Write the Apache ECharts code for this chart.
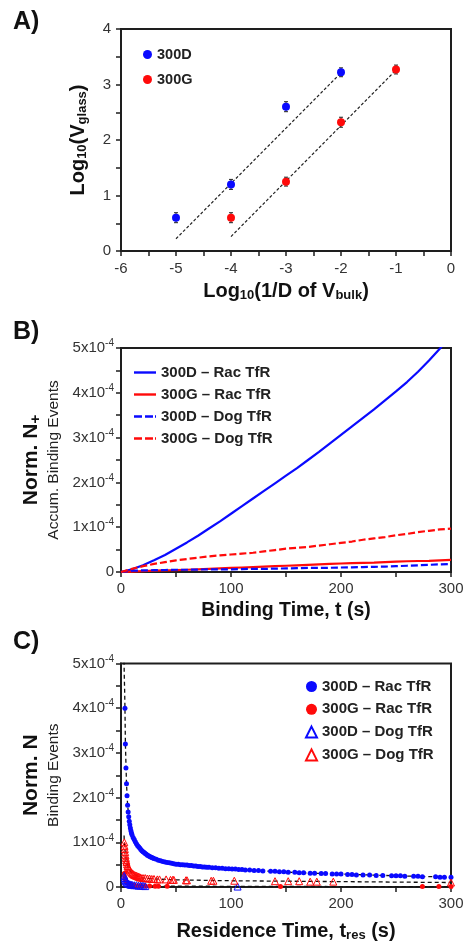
<!DOCTYPE html>
<html><head><meta charset="utf-8">
<script src="https://cdn.jsdelivr.net/npm/echarts@6/dist/echarts.min.js"></script>
<style>
html,body{margin:0;padding:0;background:#fff;width:468px;height:942px;overflow:hidden;}
.p{position:absolute;left:0;width:468px;}
#a{top:0;height:310px;} #b{top:310px;height:310px;} #c{top:620px;height:322px;}
</style></head><body>
<div id="a" class="p"></div><div id="b" class="p"></div><div id="c" class="p"></div>
<script>
// ---------- Panel A data ----------
const aXTicks = [-6, -5, -4, -3, -2, -1, 0];
const aX_300D = [-5, -4, -3, -2];
const aY_300D = [0.60, 1.20, 2.60, 3.22];
const aE_300D = [0.09, 0.09, 0.09, 0.08];
const aX_300G = [-4, -3, -2, -1];
const aY_300G = [0.60, 1.25, 2.32, 3.27];
const aE_300G = [0.09, 0.08, 0.09, 0.08];
const aFitX_300D = [-5, -2];
const aFitY_300D = [0.22, 3.21];
const aFitX_300G = [-4, -1];
const aFitY_300G = [0.26, 3.26];

// ---------- Panel B data (values in units of 1e-4) ----------
const bNames = ['300D – Rac TfR', '300G – Rac TfR', '300D – Dog TfR', '300G – Dog TfR'];
const bT = [0,10,20,30,40,50,60,70,80,90,100,110,120,130,140,150,160,170,180,190,200,210,220,230,240,250,260,270,280,290,300];
const bRac300D = [0,0.06,0.15,0.26,0.38,0.52,0.66,0.81,0.97,1.13,1.30,1.47,1.64,1.81,1.98,2.15,2.32,2.50,2.68,2.87,3.06,3.25,3.44,3.63,3.83,4.03,4.24,4.47,4.72,4.99,5.28];
const bRac300G = [0,0.01,0.02,0.03,0.035,0.04,0.05,0.06,0.07,0.08,0.09,0.10,0.11,0.12,0.13,0.14,0.15,0.16,0.17,0.18,0.19,0.20,0.205,0.21,0.22,0.23,0.24,0.245,0.25,0.26,0.27];
const bDog300D = [0,0.03,0.035,0.04,0.045,0.05,0.05,0.055,0.06,0.06,0.06,0.065,0.07,0.07,0.075,0.08,0.085,0.09,0.09,0.095,0.10,0.105,0.11,0.115,0.12,0.13,0.14,0.15,0.16,0.17,0.18];
const bDog300G = [0,0.07,0.13,0.18,0.22,0.26,0.29,0.32,0.35,0.37,0.39,0.41,0.43,0.46,0.49,0.52,0.54,0.56,0.59,0.62,0.65,0.68,0.72,0.75,0.78,0.82,0.85,0.89,0.92,0.95,0.97];

// ---------- Panel C data (values in units of 1e-4) ----------
const cT_Rac300D = [3.6,4.0,4.5,5.0,5.5,6.0,6.5,7.0,7.5,8.0,8.5,9.0,9.5,10,11,12,13,14,15,16,17,18,19,20,21,22,23,24,25,26,27,28,29,30,32,34,36,38,40,42,44,46,48,50,52,54,56,58,60,62,64,66,68,70,72,74,76,78,80,83,86,89,92,95,98,101,104,107,110,113,117,121,125,129,136,140,144,148,152,158,162,166,172,176,182,186,192,196,200,206,210,214,220,226,232,238,246,250,254,258,266,270,274,286,290,294,300];
const cV_Rac300D = [4.00,3.20,2.66,2.31,2.04,1.83,1.68,1.57,1.47,1.39,1.32,1.26,1.21,1.17,1.11,1.06,1.01,0.97,0.93,0.90,0.87,0.84,0.81,0.79,0.77,0.75,0.73,0.71,0.70,0.68,0.67,0.66,0.65,0.64,0.62,0.60,0.59,0.57,0.56,0.55,0.54,0.53,0.52,0.51,0.51,0.50,0.50,0.49,0.49,0.48,0.48,0.47,0.47,0.46,0.46,0.45,0.45,0.44,0.44,0.43,0.43,0.42,0.42,0.41,0.41,0.40,0.40,0.39,0.39,0.38,0.38,0.37,0.37,0.36,0.35,0.35,0.34,0.34,0.33,0.33,0.32,0.32,0.31,0.31,0.30,0.30,0.29,0.29,0.29,0.28,0.28,0.27,0.27,0.27,0.26,0.26,0.25,0.25,0.25,0.24,0.24,0.24,0.23,0.23,0.22,0.22,0.22];
const cT_Rac300G = [3.0,3.5,4.0,5.0,6.0,7.0,8.0,10,12,15,18,22,26,31,34,42,145,274,289,300];
const cV_Rac300G = [0.30,0.22,0.17,0.12,0.09,0.07,0.06,0.05,0.04,0.03,0.03,0.02,0.02,0.015,0.015,0.015,0.01,0.01,0.01,0.01];
const cT_Dog300D = [3.0,3.4,3.8,4.3,5.0,6.0,7.0,8.0,9.0,10,12,14,16,18,20,22,106];
const cV_Dog300D = [0.25,0.20,0.16,0.13,0.10,0.08,0.07,0.06,0.05,0.05,0.04,0.04,0.03,0.03,0.03,0.02,0.01];
const cT_Dog300G = [3.0,3.2,3.5,3.8,4.1,4.4,4.7,5.0,5.5,6,6.5,7,7.5,8,9,10,11,12,13,14,15,16,17,18,20,22,24,26,28,30,33,35,41,45,47,48,59,60,82,84,103,140,152,162,172,178,193,300];
const cV_Dog300G = [1.00,0.92,0.85,0.78,0.71,0.65,0.60,0.56,0.51,0.47,0.44,0.41,0.39,0.37,0.34,0.31,0.29,0.27,0.26,0.25,0.24,0.23,0.22,0.21,0.20,0.20,0.19,0.19,0.18,0.18,0.17,0.17,0.17,0.16,0.16,0.16,0.15,0.15,0.14,0.14,0.14,0.13,0.13,0.13,0.12,0.12,0.12,0.10];
// fitted curves (dashed black)
const cFitT_Rac300D = [2.6,2.8,3.0,3.3,3.6,4.0,5.0,6.0,8.0,10,15,20,30,50,80,120,160,200,250,300];
const cFitV_Rac300D = [6.0,5.0,4.7,4.4,4.0,3.2,2.31,1.83,1.39,1.17,0.93,0.79,0.64,0.51,0.44,0.37,0.32,0.29,0.25,0.22];
const cFitT_Dog300G = [2.8,3.0,4.0,5.0,7.0,10,15,20,30,50,100,150,200,250,300];
const cFitV_Dog300G = [1.15,1.00,0.73,0.56,0.41,0.31,0.24,0.20,0.18,0.16,0.14,0.13,0.12,0.11,0.10];
const cFitT_Low = [2.8,3.0,4.0,6.0,10,20,40,100,200,300];
const cFitV_Low = [0.35,0.28,0.16,0.09,0.05,0.03,0.02,0.015,0.01,0.01];

// ---------- styling ----------
const FONT = '"Liberation Sans", Arial, Helvetica, sans-serif';
const AXC = '#1e1e1e';
const LBL = '#333';
const BLUE = '#0a0aff';
const RED = '#ff0a0a';
const E4 = 1e-4;
const ICON_SOLID = 'path://M0,0H22V2.4H0Z';
const ICON_DASH = 'path://M0,0H8V2.4H0Z M11,0H19V2.4H11Z M21,0H22V2.4H21Z';

function axisCommon() {
  return {
    axisLine: {show: true, onZero: false, lineStyle: {color: AXC, width: 2}},
    axisTick: {show: true, inside: false, length: 5, lineStyle: {color: AXC, width: 1.5}},
    splitLine: {show: false}
  };
}
function sciFmt(v) {
  const k = Math.round(v * 1e5) / 10;
  if (Math.abs(k) < 1e-9) return '{n|0}';
  if (Math.abs(k - Math.round(k)) < 1e-9) return '{n|' + Math.round(k) + 'x10}{sup|-4}';
  return '';
}
const sciRich = {
  n: {fontSize: 15, color: LBL, fontFamily: FONT},
  sup: {fontSize: 10, color: LBL, fontFamily: FONT, padding: [0, 0, 9, 0]}
};
function intFmt(v) { return Math.abs(v - Math.round(v)) < 1e-9 ? String(Math.round(v)) : ''; }
function hundredFmt(v) { return (Math.round(v) % 100 === 0) ? String(Math.round(v)) : ''; }
const titleRich = {
  b: {fontSize: 20, fontWeight: 'bold', color: '#111', fontFamily: FONT, lineHeight: 24},
  s: {fontSize: 13, fontWeight: 'bold', color: '#111', fontFamily: FONT, padding: [8, 0, 0, 0], lineHeight: 24},
  r: {fontSize: 15.5, color: '#222', fontFamily: FONT, lineHeight: 22}
};
function letter(t) {
  return {type: 'text', left: 13, top: 10, style: {text: t, font: 'bold 25px ' + FONT, fill: '#111'}};
}
function pairs(xs, ys, scale) { return xs.map((x, i) => [x, ys[i] * scale]); }

// ---------- Panel A ----------
function errBars(name, xs, ys, es) {
  return {
    type: 'custom', name: name, z: 2, silent: true,
    data: xs.map((x, i) => [x, ys[i] - es[i], ys[i] + es[i]]),
    encode: {x: 0, y: [1, 2]},
    renderItem: function (params, api) {
      const lo = api.coord([api.value(0), api.value(1)]);
      const hi = api.coord([api.value(0), api.value(2)]);
      const w = 2;
      const st = {stroke: '#222', lineWidth: 1};
      return {type: 'group', children: [
        {type: 'line', shape: {x1: lo[0], y1: lo[1], x2: hi[0], y2: hi[1]}, style: st},
        {type: 'line', shape: {x1: lo[0] - w, y1: lo[1], x2: lo[0] + w, y2: lo[1]}, style: st},
        {type: 'line', shape: {x1: hi[0] - w, y1: hi[1], x2: hi[0] + w, y2: hi[1]}, style: st}
      ]};
    }
  };
}
const chartA = echarts.init(document.getElementById('a'));
chartA.setOption({
  animation: false,
  backgroundColor: '#fff',
  graphic: [letter('A)')],
  grid: {left: 121, top: 29, width: 330, height: 222, show: true, borderColor: AXC, borderWidth: 2, outerBoundsMode: 'none'},
  legend: {
    data: ['300D', '300G'], orient: 'vertical', left: 138, top: 42, icon: 'circle',
    itemWidth: 9, itemHeight: 9, itemGap: 10,
    textStyle: {fontSize: 14.5, fontWeight: 'bold', color: '#222', fontFamily: FONT}
  },
  xAxis: Object.assign(axisCommon(), {
    type: 'value', min: aXTicks[0], max: aXTicks[aXTicks.length - 1], interval: 0.5,
    axisLabel: {formatter: intFmt, fontSize: 15, color: LBL, fontFamily: FONT, margin: 10},
    name: '{b|Log}{s|10}{b|(1/D of V}{s|bulk}{b|)}', nameLocation: 'middle', nameGap: 27,
    nameTextStyle: {rich: titleRich}
  }),
  yAxis: Object.assign(axisCommon(), {
    type: 'value', min: 0, max: 4, interval: 0.5,
    axisLabel: {formatter: intFmt, fontSize: 15, color: LBL, fontFamily: FONT, margin: 10},
    name: '{b|Log}{s|10}{b|(V}{s|glass}{b|)}', nameLocation: 'middle', nameGap: 31, nameRotate: 90,
    nameTextStyle: {rich: titleRich}
  }),
  series: [
    {type: 'line', name: 'fit 300D', data: pairs(aFitX_300D, aFitY_300D, 1), symbol: 'none', z: 1,
     lineStyle: {color: '#222', width: 1.2, type: [3, 2]}},
    {type: 'line', name: 'fit 300G', data: pairs(aFitX_300G, aFitY_300G, 1), symbol: 'none', z: 1,
     lineStyle: {color: '#222', width: 1.2, type: [3, 2]}},
    errBars('err 300D', aX_300D, aY_300D, aE_300D),
    errBars('err 300G', aX_300G, aY_300G, aE_300G),
    {type: 'scatter', name: '300D', data: pairs(aX_300D, aY_300D, 1), symbol: 'circle', symbolSize: 8, z: 3,
     itemStyle: {color: BLUE, opacity: 1}},
    {type: 'scatter', name: '300G', data: pairs(aX_300G, aY_300G, 1), symbol: 'circle', symbolSize: 8, z: 3,
     itemStyle: {color: RED, opacity: 1}}
  ]
});

// ---------- Panel B ----------
const chartB = echarts.init(document.getElementById('b'));
function bLine(name, vals, color, type) {
  return {type: 'line', name: name, data: pairs(bT, vals, E4), symbol: 'none', clip: true,
    lineStyle: {color: color, width: 2.2, type: type}, itemStyle: {color: color}};
}
chartB.setOption({
  animation: false,
  backgroundColor: '#fff',
  graphic: [letter('B)')],
  grid: {left: 121, top: 38, width: 330, height: 224, show: true, borderColor: AXC, borderWidth: 2, outerBoundsMode: 'none'},
  legend: {
    data: [
      {name: bNames[0], icon: ICON_SOLID, itemStyle: {color: BLUE}},
      {name: bNames[1], icon: ICON_SOLID, itemStyle: {color: RED}},
      {name: bNames[2], icon: ICON_DASH, itemStyle: {color: BLUE}},
      {name: bNames[3], icon: ICON_DASH, itemStyle: {color: RED}}
    ],
    orient: 'vertical', left: 129, top: 50,
    itemWidth: 22, itemHeight: 2.4, itemGap: 7,
    textStyle: {fontSize: 15, fontWeight: 'bold', color: '#222', fontFamily: FONT}
  },
  xAxis: Object.assign(axisCommon(), {
    type: 'value', min: 0, max: 300, interval: 50,
    axisLabel: {formatter: hundredFmt, fontSize: 15, color: LBL, fontFamily: FONT, margin: 9},
    name: 'Binding Time, t (s)', nameLocation: 'middle', nameGap: 26,
    nameTextStyle: {fontSize: 19.5, fontWeight: 'bold', color: '#111', fontFamily: FONT}
  }),
  yAxis: Object.assign(axisCommon(), {
    type: 'value', min: 0, max: 5 * E4, interval: 0.5 * E4,
    axisLabel: {formatter: sciFmt, rich: sciRich, margin: 7},
    name: '{b|Norm. N}{s|+}\n{r|Accum. Binding Events}', nameLocation: 'middle', nameGap: 53, nameRotate: 90,
    nameTextStyle: {rich: {
      b: {fontSize: 21, fontWeight: 'bold', color: '#111', fontFamily: FONT, lineHeight: 22},
      s: {fontSize: 15, fontWeight: 'bold', color: '#111', fontFamily: FONT, padding: [8, 0, 0, 0], lineHeight: 22},
      r: {fontSize: 15.5, color: '#222', fontFamily: FONT, lineHeight: 22}
    }}
  }),
  series: [
    bLine(bNames[0], bRac300D, BLUE, 'solid'),
    bLine(bNames[1], bRac300G, RED, 'solid'),
    bLine(bNames[2], bDog300D, BLUE, [7, 3]),
    bLine(bNames[3], bDog300G, RED, [7, 3])
  ]
});

// ---------- Panel C ----------
const chartC = echarts.init(document.getElementById('c'));
function cFit(name, ts, vs) {
  return {type: 'line', name: name, data: pairs(ts, vs, E4), symbol: 'none', clip: true, z: 1, silent: true,
    lineStyle: {color: '#111', width: 1.3, type: [4, 3]}};
}
chartC.setOption({
  animation: false,
  backgroundColor: '#fff',
  graphic: [letter('C)')],
  grid: {left: 121, top: 43.5, width: 330, height: 223.5, show: true, borderColor: AXC, borderWidth: 2, outerBoundsMode: 'none'},
  legend: {
    data: bNames, orient: 'vertical', left: 300, top: 54,
    itemWidth: 11, itemHeight: 11, itemGap: 7.8,
    textStyle: {fontSize: 15, fontWeight: 'bold', color: '#222', fontFamily: FONT}
  },
  xAxis: Object.assign(axisCommon(), {
    type: 'value', min: 0, max: 300, interval: 50,
    axisLabel: {formatter: hundredFmt, fontSize: 15, color: LBL, fontFamily: FONT, margin: 9},
    name: '{b|Residence Time, t}{s|res}{b| (s)}', nameLocation: 'middle', nameGap: 32,
    nameTextStyle: {rich: titleRich}
  }),
  yAxis: Object.assign(axisCommon(), {
    type: 'value', min: 0, max: 5 * E4, interval: 0.5 * E4,
    axisLabel: {formatter: sciFmt, rich: sciRich, margin: 7},
    name: '{b|Norm. N}\n{r|Binding Events}', nameLocation: 'middle', nameGap: 53, nameRotate: 90,
    nameTextStyle: {rich: {
      b: {fontSize: 21, fontWeight: 'bold', color: '#111', fontFamily: FONT, lineHeight: 22},
      r: {fontSize: 15.5, color: '#222', fontFamily: FONT, lineHeight: 22}
    }}
  }),
  series: [
    cFit('fit 300D Rac', cFitT_Rac300D, cFitV_Rac300D),
    cFit('fit 300G Dog', cFitT_Dog300G, cFitV_Dog300G),
    cFit('fit low', cFitT_Low, cFitV_Low),
    {type: 'scatter', name: bNames[0], data: pairs(cT_Rac300D, cV_Rac300D, E4), symbol: 'circle', symbolSize: 5, z: 3,
     itemStyle: {color: BLUE, opacity: 1}},
    {type: 'scatter', name: bNames[1], data: pairs(cT_Rac300G, cV_Rac300G, E4), symbol: 'circle', symbolSize: 5, z: 3,
     itemStyle: {color: RED, opacity: 1}},
    {type: 'scatter', name: bNames[2], data: pairs(cT_Dog300D, cV_Dog300D, E4), symbol: 'triangle', symbolSize: 7, z: 4,
     itemStyle: {color: 'rgba(255,255,255,0)', borderColor: BLUE, borderWidth: 1, opacity: 1}},
    {type: 'scatter', name: bNames[3], data: pairs(cT_Dog300G, cV_Dog300G, E4), symbol: 'triangle', symbolSize: 7, z: 4,
     itemStyle: {color: 'rgba(255,255,255,0)', borderColor: RED, borderWidth: 1, opacity: 1}}
  ]
});
</script></body></html>
